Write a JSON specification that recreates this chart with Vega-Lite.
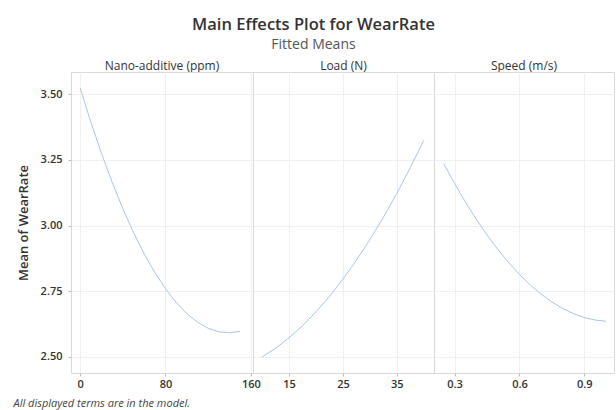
{
  "$schema": "https://vega.github.io/schema/vega-lite/v6.json",
  "padding": {"left": 12, "top": 16, "right": 3, "bottom": 2},
  "background": "white",
  "columns": 3,
  "spacing": 0,
  "bounds": "flush",
  "title": {
    "text": "Main Effects Plot for WearRate",
    "subtitle": "Fitted Means",
    "anchor": "middle",
    "font": "Open Sans",
    "fontSize": 16.5,
    "fontWeight": 600,
    "color": "#333333",
    "subtitleFont": "Open Sans",
    "subtitleFontSize": 14,
    "subtitleColor": "#555555",
    "subtitlePadding": 5,
    "offset": 7
  },
  "config": {
    "font": "Open Sans",
    "view": {"stroke": "#d9d9d9", "strokeWidth": 1},
    "axis": {
      "labelFont": "Open Sans",
      "labelFontSize": 11,
      "labelFontWeight": 600,
      "labelColor": "#333333",
      "gridColor": "#f0f0f0",
      "domain": false,
      "tickColor": "#bbbbbb",
      "tickSize": 3
    }
  },
  "datasets": {
    "effects": [
      {"factor": "Nano", "x": 0, "mean": 3.525},
      {"factor": "Nano", "x": 10, "mean": 3.3956},
      {"factor": "Nano", "x": 20, "mean": 3.2758},
      {"factor": "Nano", "x": 30, "mean": 3.1657},
      {"factor": "Nano", "x": 40, "mean": 3.0652},
      {"factor": "Nano", "x": 50, "mean": 2.9744},
      {"factor": "Nano", "x": 60, "mean": 2.8933},
      {"factor": "Nano", "x": 70, "mean": 2.8218},
      {"factor": "Nano", "x": 80, "mean": 2.76},
      {"factor": "Nano", "x": 90, "mean": 2.7078},
      {"factor": "Nano", "x": 100, "mean": 2.6653},
      {"factor": "Nano", "x": 110, "mean": 2.6325},
      {"factor": "Nano", "x": 120, "mean": 2.6093},
      {"factor": "Nano", "x": 130, "mean": 2.5957},
      {"factor": "Nano", "x": 140, "mean": 2.5918},
      {"factor": "Nano", "x": 150, "mean": 2.5976},
      {"factor": "Load", "x": 10, "mean": 2.5},
      {"factor": "Load", "x": 12.5, "mean": 2.5333},
      {"factor": "Load", "x": 15, "mean": 2.5731},
      {"factor": "Load", "x": 17.5, "mean": 2.6193},
      {"factor": "Load", "x": 20, "mean": 2.6719},
      {"factor": "Load", "x": 22.5, "mean": 2.731},
      {"factor": "Load", "x": 25, "mean": 2.7965},
      {"factor": "Load", "x": 27.5, "mean": 2.8685},
      {"factor": "Load", "x": 30, "mean": 2.9469},
      {"factor": "Load", "x": 32.5, "mean": 3.0318},
      {"factor": "Load", "x": 35, "mean": 3.1231},
      {"factor": "Load", "x": 37.5, "mean": 3.2208},
      {"factor": "Load", "x": 40, "mean": 3.325},
      {"factor": "Speed", "x": 0.25, "mean": 3.236},
      {"factor": "Speed", "x": 0.3, "mean": 3.1606},
      {"factor": "Speed", "x": 0.35, "mean": 3.0902},
      {"factor": "Speed", "x": 0.4, "mean": 3.0249},
      {"factor": "Speed", "x": 0.45, "mean": 2.9646},
      {"factor": "Speed", "x": 0.5, "mean": 2.9094},
      {"factor": "Speed", "x": 0.55, "mean": 2.8593},
      {"factor": "Speed", "x": 0.6, "mean": 2.8142},
      {"factor": "Speed", "x": 0.65, "mean": 2.7742},
      {"factor": "Speed", "x": 0.7, "mean": 2.7393},
      {"factor": "Speed", "x": 0.75, "mean": 2.7094},
      {"factor": "Speed", "x": 0.8, "mean": 2.6846},
      {"factor": "Speed", "x": 0.85, "mean": 2.6649},
      {"factor": "Speed", "x": 0.9, "mean": 2.6502},
      {"factor": "Speed", "x": 0.95, "mean": 2.6406},
      {"factor": "Speed", "x": 1.0, "mean": 2.6361}
    ],
    "headers": [
      {"factor": "Nano", "label": "Nano-additive (ppm)"},
      {"factor": "Load", "label": "Load (N)"},
      {"factor": "Speed", "label": "Speed (m/s)"}
    ]
  },
  "concat": [
    {
      "width": 182, "height": 13,
      "data": {"name": "headers"},
      "transform": [{"filter": "datum.factor === 'Nano'"}],
      "mark": {"type": "text", "fontSize": 12, "color": "#333333", "baseline": "middle"},
      "encoding": {"text": {"field": "label"}}
    },
    {
      "width": 181, "height": 13,
      "data": {"name": "headers"},
      "transform": [{"filter": "datum.factor === 'Load'"}],
      "mark": {"type": "text", "fontSize": 12, "color": "#333333", "baseline": "middle"},
      "encoding": {"text": {"field": "label"}}
    },
    {
      "width": 180, "height": 13,
      "data": {"name": "headers"},
      "transform": [{"filter": "datum.factor === 'Speed'"}],
      "mark": {"type": "text", "fontSize": 12, "color": "#333333", "baseline": "middle"},
      "encoding": {"text": {"field": "label"}}
    },
    {
      "width": 182, "height": 301,
      "data": {"name": "effects"},
      "transform": [{"filter": "datum.factor === 'Nano'"}],
      "mark": {"type": "line", "color": "#a9c6ea", "strokeWidth": 1},
      "encoding": {
        "x": {"field": "x", "type": "quantitative",
              "scale": {"domain": [-8.5, 162], "nice": false, "zero": false},
              "axis": {"values": [0, 80, 160], "title": "All displayed terms are in the model.",
                       "titleFont": "Open Sans", "titleFontSize": 11, "titleFontStyle": "italic",
                       "titleFontWeight": "normal", "titleColor": "#444444",
                       "titleAnchor": "start", "titleAlign": "left", "titleX": -58, "titlePadding": 8}},
        "y": {"field": "mean", "type": "quantitative",
              "scale": {"domain": [2.439, 3.585], "nice": false, "zero": false},
              "axis": {"values": [2.5, 2.75, 3.0, 3.25, 3.5], "format": ".2f",
                       "title": "Mean of WearRate", "titleFont": "Open Sans", "titleFontSize": 13,
                       "titleFontWeight": 600, "titleColor": "#333333", "titlePadding": 10, "labelPadding": 6}}
      }
    },
    {
      "width": 181, "height": 301,
      "data": {"name": "effects"},
      "transform": [{"filter": "datum.factor === 'Load'"}],
      "mark": {"type": "line", "color": "#a9c6ea", "strokeWidth": 1},
      "encoding": {
        "x": {"field": "x", "type": "quantitative",
              "scale": {"domain": [8.3, 41.9], "nice": false, "zero": false},
              "axis": {"values": [15, 25, 35], "title": null}},
        "y": {"field": "mean", "type": "quantitative",
              "scale": {"domain": [2.439, 3.585], "nice": false, "zero": false},
              "axis": {"values": [2.5, 2.75, 3.0, 3.25, 3.5], "labels": false, "ticks": false, "title": null}}
      }
    },
    {
      "width": 180, "height": 301,
      "data": {"name": "effects"},
      "transform": [{"filter": "datum.factor === 'Speed'"}],
      "mark": {"type": "line", "color": "#a9c6ea", "strokeWidth": 1},
      "encoding": {
        "x": {"field": "x", "type": "quantitative",
              "scale": {"domain": [0.205, 1.037], "nice": false, "zero": false},
              "axis": {"values": [0.3, 0.6, 0.9], "format": ".1f", "title": null}},
        "y": {"field": "mean", "type": "quantitative",
              "scale": {"domain": [2.439, 3.585], "nice": false, "zero": false},
              "axis": {"values": [2.5, 2.75, 3.0, 3.25, 3.5], "labels": false, "ticks": false, "title": null}}
      }
    }
  ]
}
